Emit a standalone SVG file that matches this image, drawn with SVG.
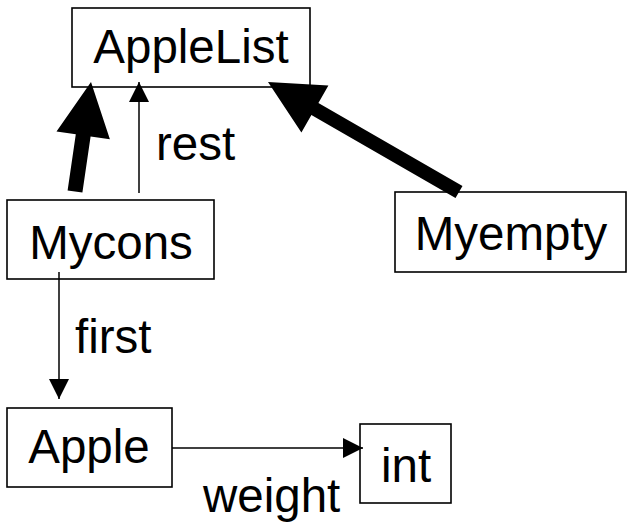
<svg xmlns="http://www.w3.org/2000/svg" width="627" height="522" viewBox="0 0 627 522">
<defs>
<marker id="ah" markerUnits="userSpaceOnUse" markerWidth="20" markerHeight="20" viewBox="0 0 20 20" refX="20" refY="10" orient="auto">
<path d="M0,0 L20,10 L0,20 z" fill="#000"/>
</marker>
<style>
.box{fill:#fff;stroke:#000;stroke-width:1.6}
.lbl{font-family:"Liberation Sans",Arial,sans-serif;font-size:47.5px;fill:#000}
.thin{stroke:#000;stroke-width:1.5;fill:none}
.thick{fill:#000;stroke:none}
</style>
</defs>
<rect width="627" height="522" fill="#fff"/>
<g id="AppleList"><rect class="box" x="72" y="8" width="238" height="79"/><text class="lbl" x="191" y="63" text-anchor="middle">AppleList</text></g>
<g id="Mycons"><rect class="box" x="7" y="200" width="207" height="79"/><text class="lbl" x="111" y="259" text-anchor="middle">Mycons</text></g>
<g id="Myempty"><rect class="box" x="395" y="192" width="231" height="80"/><text class="lbl" x="511" y="250" text-anchor="middle">Myempty</text></g>
<g id="Apple"><rect class="box" x="7" y="408" width="165" height="79"/><text class="lbl" x="89" y="463" text-anchor="middle">Apple</text></g>
<g id="int"><rect class="box" x="360" y="424" width="91" height="79"/><text class="lbl" x="406" y="482" text-anchor="middle">int</text></g>
<g id="connectors">
<polygon class="thick" points="91,82 109.9,139.3 90.6,136.5 82.4,192.6 67.6,190.4 75.8,134.3 56.5,131.5"/>
<polygon class="thick" points="268,82 328.4,85.6 318.4,102.9 462.5,185.9 455.5,198.1 311.4,115.1 301.4,132.4"/>
<line class="thin" x1="139" y1="193" x2="139" y2="82" marker-end="url(#ah)"/>
<line class="thin" x1="59" y1="272" x2="59" y2="399" marker-end="url(#ah)"/>
<line class="thin" x1="172" y1="448" x2="363" y2="448" marker-end="url(#ah)"/>
<text class="lbl" x="156" y="160">rest</text>
<text class="lbl" x="75" y="353">first</text>
<text class="lbl" x="203" y="512">weight</text>
</g>
</svg>
